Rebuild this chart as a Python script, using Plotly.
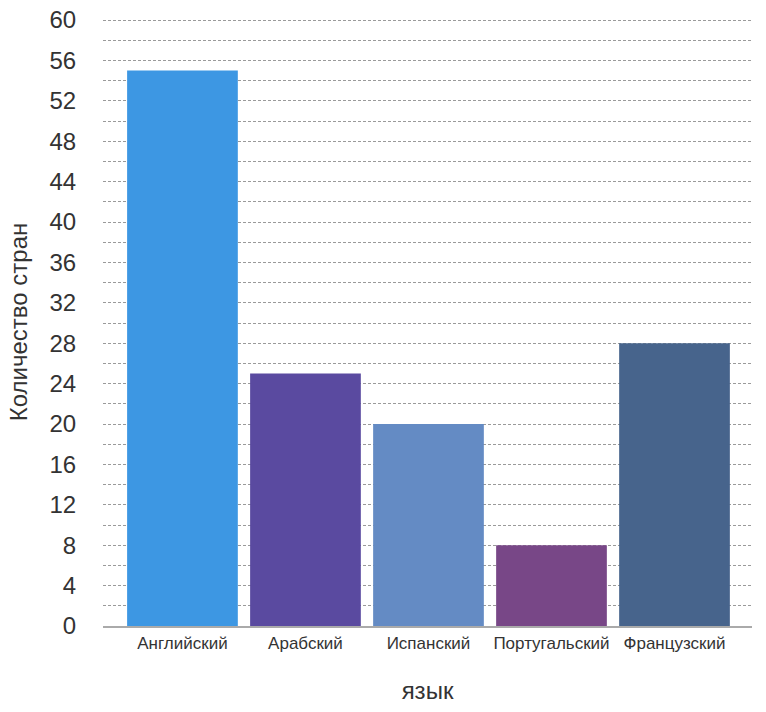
import plotly.graph_objects as go

languages = ["Английский", "Арабский", "Испанский", "Португальский", "Французский"]
countries = [55, 25, 20, 8, 28]
bar_colors = ["#3d97e3", "#5a4aa0", "#648bc4", "#784787", "#47648c"]

fig = go.Figure()
fig.add_trace(go.Bar(
    x=languages, y=countries,
    marker_color=bar_colors, marker_line_width=0,
    showlegend=False,
))

fig.update_layout(
    width=766, height=712,
    bargap=0.1,
    paper_bgcolor="white", plot_bgcolor="white",
    font=dict(family="Liberation Sans, Arial, sans-serif", color="#333333"),
    margin=dict(l=103, r=14, t=18, b=86),
    xaxis=dict(
        range=[-0.646, 4.63], automargin=False,
        showline=True, linecolor="#aaaaaa", linewidth=2,
        showgrid=False, ticks="outside", ticklen=1, tickcolor="rgba(0,0,0,0)",
        tickfont=dict(size=17),
        title=dict(text="язык", font=dict(size=24), standoff=30),
    ),
    yaxis=dict(
        # a hair above 60 so the top tick and its gridline are kept
        range=[0, 60.2], tickmode="linear", tick0=0, dtick=4, automargin=False,
        ticklabeloverflow="allow",
        showgrid=True, gridcolor="#9a9a9a", gridwidth=1, griddash="3px,2px",
        minor=dict(dtick=2, showgrid=True, gridcolor="#9a9a9a", gridwidth=1, griddash="3px,2px"),
        zeroline=False, showline=False,
        ticks="outside", ticklen=21, tickcolor="rgba(0,0,0,0)",
        tickfont=dict(size=24),
        title=dict(text="Количество стран", font=dict(size=24), standoff=15),
    ),
)

# drop the default 8px body margin so the figure fills the window exactly
fig.write_html(
    "out.html",
    config={"displayModeBar": False},
    post_script="document.body.style.margin = '0';",
)
